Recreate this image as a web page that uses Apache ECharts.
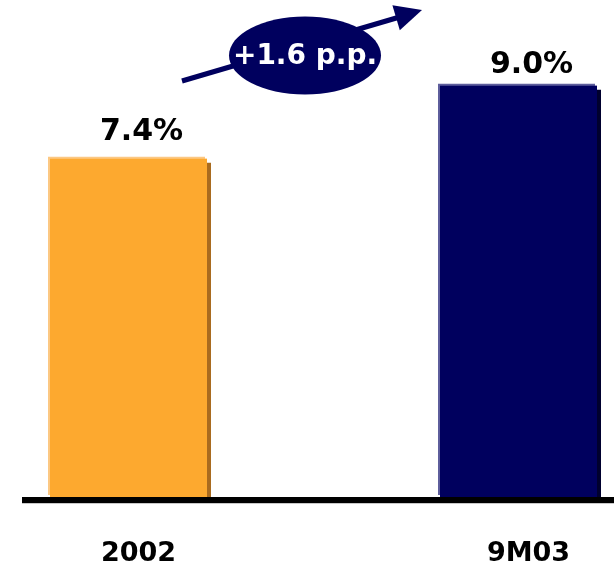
<!DOCTYPE html>
<html>
<head>
<meta charset="utf-8">
<script src="https://cdn.jsdelivr.net/npm/echarts@6/dist/echarts.min.js"></script>
<style>
  html, body { margin: 0; padding: 0; background: #fff; }
  #chart { width: 614px; height: 567px; }
</style>
</head>
<body>
<div id="chart"></div>
<script>
// Periods and their rates (%)
const categories = ['2002', '9M03'];
const values = [7.4, 9.0];

// Per-bar styling: face, lit edge, shaded side
const faceColors = ['#FDA92F', '#00005E'];
const edgeColors = ['#FCC883', '#5E5E9C'];
const shadeColors = ['#A96B1F', '#00002E'];
const labelGaps = [12, 5];

const FONT = '"DejaVu Sans", Verdana, sans-serif';
const NAVY = '#00005E';

const chart = echarts.init(document.getElementById('chart'), null, { renderer: 'canvas' });

const option = {
  backgroundColor: '#ffffff',
  animation: false,
  grid: [
    { left: 128.5, right: 95.5, top: 40, bottom: 70 },
    // baseline grid, spanning the full width
    { left: 22, right: 0, top: 40, bottom: 67 }
  ],
  xAxis: [
    {
      gridIndex: 0,
      type: 'category',
      data: categories,
      boundaryGap: false,
      axisLine: { show: false },
      axisTick: { show: false },
      axisLabel: {
        color: '#000',
        fontFamily: FONT,
        fontWeight: 'bold',
        fontSize: 27,
        margin: 43,
        padding: [0, 0, 0, 20]
      }
    },
    {
      gridIndex: 1,
      type: 'category',
      data: [''],
      z: 10,
      axisLine: { lineStyle: { color: '#000', width: 6, cap: 'butt' } },
      axisTick: { show: false },
      axisLabel: { show: false }
    }
  ],
  yAxis: [
    { gridIndex: 0, type: 'value', min: 0, max: 10, show: false },
    { gridIndex: 1, type: 'value', min: 0, max: 10, show: false }
  ],
  series: [
    {
      // lit top/left edge of each bar
      type: 'bar',
      xAxisIndex: 0,
      yAxisIndex: 0,
      barWidth: 157,
      silent: true,
      data: values.map((v, i) => ({
        value: v,
        itemStyle: {
          color: edgeColors[i],
          shadowColor: edgeColors[i],
          shadowBlur: 0,
          shadowOffsetX: -2,
          shadowOffsetY: -2
        }
      }))
    },
    {
      type: 'bar',
      xAxisIndex: 0,
      yAxisIndex: 0,
      barWidth: 157,
      barGap: '-100%',
      data: values.map((v, i) => ({
        value: v,
        itemStyle: {
          color: faceColors[i],
          shadowColor: shadeColors[i],
          shadowBlur: 0,
          shadowOffsetX: 4,
          shadowOffsetY: 4
        },
        label: { distance: labelGaps[i] }
      })),
      label: {
        show: true,
        position: 'top',
        offset: [13, 0],
        color: '#000',
        fontFamily: FONT,
        fontWeight: 'bold',
        fontSize: 30,
        formatter: p => p.value.toFixed(1) + '%'
      }
    }
  ],
  graphic: [
    {
      type: 'line',
      z: 20,
      shape: { x1: 182, y1: 81, x2: 398, y2: 17.5 },
      style: { stroke: NAVY, lineWidth: 5 }
    },
    {
      type: 'polygon',
      z: 20,
      shape: { points: [[422, 10], [392.4, 5.2], [399.8, 30.2]] },
      style: { fill: NAVY }
    },
    {
      type: 'ellipse',
      z: 21,
      shape: { cx: 305, cy: 55.5, rx: 76, ry: 39 },
      style: { fill: NAVY }
    },
    {
      type: 'text',
      z: 22,
      x: 305,
      y: 57,
      style: {
        text: '+1.6 p.p.',
        fill: '#ffffff',
        font: 'bold 28px ' + FONT,
        align: 'center',
        verticalAlign: 'middle'
      }
    },
    {
      // faint rule under the baseline
      type: 'line',
      z: 5,
      shape: { x1: 22, y1: 503.5, x2: 614, y2: 503.5 },
      style: { stroke: '#C8C8C8', lineWidth: 1 }
    }
  ]
};

chart.setOption(option);
</script>
</body>
</html>
